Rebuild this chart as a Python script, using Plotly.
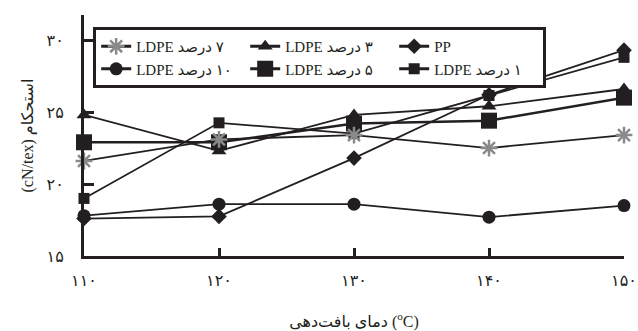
import plotly.graph_objects as go

# ---- data ----
temps = [110, 120, 130, 140, 150]
pp = [17.6, 17.75, 21.8, 26.2, 29.3]
ldpe1 = [19.0, 24.25, 23.5, 26.15, 28.8]
ldpe3 = [24.8, 22.3, 24.8, 25.4, 26.6]
ldpe5 = [22.9, 22.9, 24.2, 24.4, 26.0]
ldpe7 = [21.6, 23.1, 23.4, 22.5, 23.4]
ldpe10 = [17.8, 18.6, 18.6, 17.7, 18.5]

x_ticks = [110, 120, 130, 140, 150]
x_ticktext = ["۱۱۰", "۱۲۰", "۱۳۰", "۱۴۰", "۱۵۰"]
y_ticks = [15, 20, 25, 30]
y_ticktext = ["۱۵", "۲۰", "۲۵", "۳۰"]

RLE, PDF = "\u202B", "\u202C"
names = {
    "pp": "PP",
    "l1": RLE + "۱ درصد LDPE" + PDF,
    "l3": RLE + "۳ درصد LDPE" + PDF,
    "l5": RLE + "۵ درصد LDPE" + PDF,
    "l7": RLE + "۷ درصد LDPE" + PDF,
    "l10": RLE + "۱۰ درصد LDPE" + PDF,
}

BLACK = "#231f20"
GRAY = "#8a8a8a"
FONT = "Liberation Serif, DejaVu Sans, serif"

styles = {
    "l3": dict(symbol="triangle-up", size=13, color=BLACK),
    "l5": dict(symbol="square", size=16, color=BLACK),
    "l1": dict(symbol="square", size=11, color=BLACK),
    "pp": dict(symbol="diamond", size=12, color=BLACK),
    "l10": dict(symbol="circle", size=13, color=BLACK),
    "l7": dict(symbol="asterisk-open", size=14, color=GRAY, line=dict(color=GRAY, width=2.5)),
}
series = {"pp": pp, "l1": ldpe1, "l3": ldpe3, "l5": ldpe5, "l7": ldpe7, "l10": ldpe10}

fig = go.Figure()
for key in ["pp", "l10", "l3", "l5", "l1", "l7"]:
    fig.add_trace(go.Scatter(
        x=temps, y=series[key], mode="lines+markers",
        line=dict(color=BLACK, width=2.5 if key == "l5" else 1.8),
        marker=styles[key], cliponaxis=False, showlegend=False,
    ))
for key in ["l7", "l3", "pp", "l10", "l5", "l1"]:
    fig.add_trace(go.Scatter(
        x=[None], y=[None], mode="lines+markers", name=names[key],
        line=dict(color=BLACK, width=3), marker=styles[key], showlegend=True,
    ))

fig.update_layout(
    width=638, height=331,
    margin=dict(l=84, r=14, t=15, b=75),
    paper_bgcolor="white", plot_bgcolor="white",
    font=dict(family=FONT, size=15, color=BLACK),
    showlegend=True,
    legend=dict(
        orientation="h", x=0.017, y=0.95, xanchor="left", yanchor="top",
        bordercolor=BLACK, borderwidth=3, bgcolor="white",
        entrywidth=104, entrywidthmode="pixels",
        font=dict(family=FONT, size=15, color=BLACK),
        itemwidth=30,
    ),
    xaxis=dict(
        range=[110, 150], tickvals=x_ticks, ticktext=x_ticktext, automargin=False,
        showgrid=False, zeroline=False, showline=True, linecolor=BLACK, linewidth=3,
        ticks="inside", ticklen=8, tickwidth=3, tickcolor=BLACK,
        tickfont=dict(size=16), ticklabelstandoff=8,
        title=dict(text="دمای بافت\u200cدهی (<sup>o</sup>C)", font=dict(size=16), standoff=29),
    ),
    yaxis=dict(
        range=[15, 31.74], tickvals=y_ticks, ticktext=y_ticktext, automargin=False,
        showgrid=False, zeroline=False, showline=True, linecolor=BLACK, linewidth=3,
        ticks="inside", ticklen=10, tickwidth=3, tickcolor=BLACK,
        tickfont=dict(size=16), ticklabelstandoff=14,
        title=dict(text=RLE + "استحکام (cN/tex)" + PDF, font=dict(size=16), standoff=10),
    ),
)

fig.write_html("out.html")
